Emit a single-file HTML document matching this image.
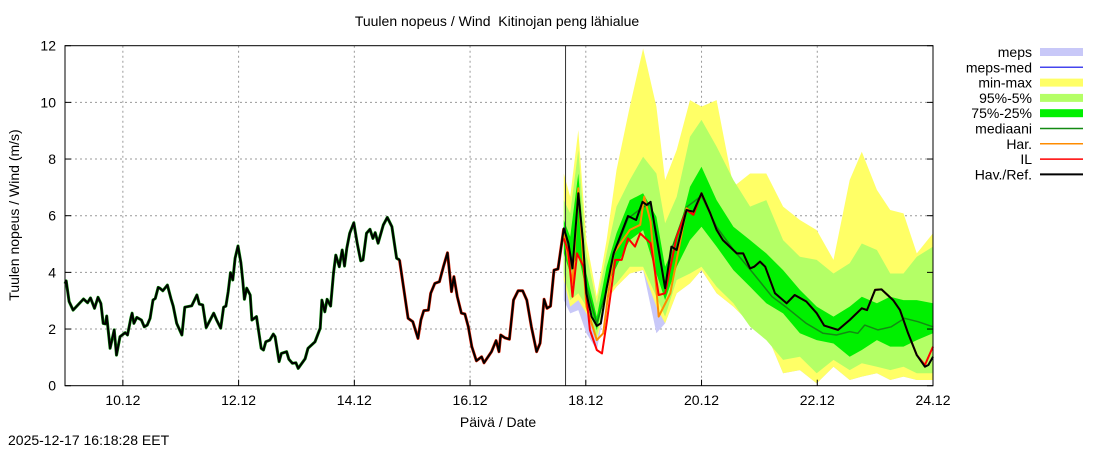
<!DOCTYPE html>
<html><head><meta charset="utf-8"><style>
body{margin:0;background:#fff}
svg{display:block;font-family:"Liberation Sans",sans-serif}
</style></head><body>
<svg id="c" width="1100" height="450" viewBox="0 0 1100 450">
<text x="497" y="26" font-size="14" text-anchor="middle">Tuulen nopeus / Wind &#160;Kitinojan peng lähialue</text>
<text transform="translate(19,215) rotate(-90)" font-size="14" text-anchor="middle">Tuulen nopeus / Wind (m/s)</text>
<text x="498" y="427" font-size="14" text-anchor="middle">Päivä / Date</text>
<text x="8" y="445" font-size="14">2025-12-17 16:18:28 EET</text>
<g id="grid"></g><g id="bands"></g><g id="lines"></g><g id="axes"></g><g id="legend"></g>
</svg>
<script>
const yTicks=[0,2,4,6,8,10,12];
const xTickDays=[10,12,14,16,18,20,22,24];
const xTickLabels=["10.12","12.12","14.12","16.12","18.12","20.12","22.12","24.12"];
const forecastStart=17.65;
const obsT=[9.0,9.02,9.07,9.14,9.32,9.39,9.44,9.51,9.57,9.62,9.66,9.70,9.72,9.78,9.85,9.89,9.95,10.04,10.08,10.14,10.16,10.19,10.24,10.32,10.37,10.42,10.47,10.52,10.56,10.61,10.64,10.69,10.77,10.83,10.87,10.93,11.02,11.07,11.19,11.28,11.32,11.38,11.44,11.57,11.62,11.69,11.74,11.78,11.82,11.86,11.90,11.94,11.99,12.04,12.07,12.10,12.14,12.20,12.23,12.31,12.39,12.43,12.47,12.54,12.60,12.63,12.70,12.74,12.83,12.87,12.93,12.99,13.03,13.15,13.20,13.32,13.41,13.44,13.49,13.53,13.59,13.64,13.68,13.74,13.79,13.83,13.87,13.92,13.99,14.05,14.11,14.15,14.21,14.27,14.32,14.36,14.41,14.50,14.57,14.65,14.73,14.78,14.93,15.01,15.10,15.15,15.20,15.28,15.32,15.39,15.47,15.54,15.61,15.68,15.72,15.78,15.85,15.91,15.97,16.03,16.11,16.20,16.24,16.37,16.45,16.50,16.53,16.60,16.68,16.75,16.83,16.91,16.98,17.06,17.15,17.21,17.28,17.33,17.39,17.45,17.52,17.62,17.70,17.77,17.87,17.95,18.01,18.10,18.19,18.26,18.36,18.48,18.73,18.87,18.98,19.05,19.12,19.22,19.37,19.48,19.57,19.74,19.86,20.00,20.15,20.26,20.37,20.61,20.72,20.84,20.91,21.01,21.10,21.27,21.47,21.61,21.81,21.99,22.12,22.36,22.56,22.77,22.86,23.00,23.11,23.31,23.43,23.57,23.72,23.86,23.92,24.00];
const obsV=[3.6,3.7,2.97,2.67,3.06,2.93,3.1,2.73,3.12,2.9,2.2,2.18,2.46,1.32,1.97,1.08,1.73,1.87,1.79,2.41,2.56,2.2,2.41,2.32,2.08,2.14,2.38,3.02,3.08,3.47,3.44,3.35,3.55,3.08,2.81,2.2,1.79,2.77,2.82,3.2,2.88,2.85,2.05,2.56,2.32,2.03,2.77,2.81,3.32,3.99,3.73,4.5,4.93,4.34,3.73,3.05,3.44,3.2,2.32,2.44,1.32,1.26,1.55,1.61,1.82,1.73,0.85,1.14,1.2,0.93,0.79,0.81,0.61,0.95,1.32,1.55,2.03,3.02,2.61,3.05,2.81,3.97,4.61,4.2,4.79,4.22,4.85,5.38,5.75,5.03,4.41,4.44,5.38,5.52,5.2,5.4,5.03,5.67,5.94,5.61,4.5,4.44,2.38,2.26,1.67,2.32,2.65,2.67,3.26,3.61,3.67,4.2,4.69,3.32,3.85,3.14,2.56,2.53,2.08,1.38,0.88,1.02,0.81,1.2,1.59,1.2,1.79,1.69,1.64,3.02,3.35,3.35,3.02,2.08,1.2,1.5,3.05,2.73,2.81,4.08,4.12,5.55,5.03,4.14,6.79,5.14,3.26,2.44,2.11,2.2,3.44,4.67,5.99,5.85,6.49,6.38,6.49,5.26,3.44,4.91,4.79,6.2,6.14,6.79,6.09,5.5,5.14,4.67,4.67,4.14,4.2,4.38,4.2,3.26,2.91,3.2,2.97,2.56,2.12,1.97,2.32,2.73,2.67,3.38,3.4,3.02,2.67,1.85,1.08,0.67,0.73,1.02];
const bandT=[17.62,17.73,17.87,18.01,18.19,18.36,18.53,18.76,18.99,19.22,19.37,19.57,19.80,20.00,20.26,20.55,20.84,21.12,21.41,21.70,21.99,22.28,22.56,22.77,23.03,23.26,23.49,23.72,24.00];
const maxV=[7.49,6.67,9.02,5.14,3.15,5.14,7.61,9.85,11.9,9.85,7.26,8.32,10.08,9.85,10.08,7.02,7.49,7.49,6.32,5.85,5.49,4.44,7.26,8.26,6.91,6.2,6.08,4.67,5.38];
const minV=[3.73,2.79,3.02,2.55,1.61,3.02,3.49,3.96,4.08,2.79,2.2,3.26,3.61,4.08,3.26,2.79,2.2,1.85,0.44,0.55,0.08,0.67,0.2,0.32,0.44,0.2,0.32,0.2,0.2];
const p95V=[6.55,6.08,8.32,4.67,2.91,4.67,6.32,7.26,8.08,7.49,5.73,6.67,8.79,9.38,8.44,7.26,6.32,6.55,5.14,4.55,4.44,3.96,4.32,5.02,4.79,3.96,3.96,4.55,4.91];
const p5V=[3.96,3.02,3.26,2.79,1.73,3.26,3.61,4.2,4.2,3.14,2.44,3.73,3.96,4.2,3.49,2.91,2.08,1.61,0.91,1.02,0.44,0.91,0.55,0.79,0.67,0.55,0.67,0.44,0.44];
const p75V=[5.85,5.26,7.49,3.96,2.44,4.2,5.38,6.55,6.79,5.96,4.2,5.14,7.02,7.73,6.55,5.61,5.14,4.67,4.08,3.38,2.79,2.44,2.79,3.14,2.91,3.14,3.02,3.02,2.91];
const p25V=[4.67,3.96,4.67,3.26,1.96,3.49,4.2,5.14,5.49,3.96,3.02,4.2,5.14,5.61,4.91,4.08,3.49,2.91,2.55,1.85,1.61,1.49,1.02,1.26,1.61,1.38,1.38,1.61,1.85];
const mepsLowV=[3.02,2.55,2.67,1.85,1.26,3.02,3.49,3.96,4.08,1.85,2.2,3.26,3.61,4.08,3.26,2.79,2.2,1.85,0.44,0.55,0.08,0.67,0.2,0.32,0.44,0.2,0.32,0.2,0.2];
const ilT=[17.62,17.70,17.77,17.85,17.96,18.07,18.19,18.28,18.36,18.51,18.62,18.73,18.85,18.94,19.12,19.26,19.37,19.57,19.74,19.86,20.00,20.15,20.26,20.37,20.61,20.72,20.84,20.91,21.01,21.10,21.27,21.47,21.61,21.81,21.99,22.12,22.36,22.56,22.77,22.86,23.00,23.11,23.31,23.43,23.57,23.72,23.86,24.00];
const ilV=[5.2,4.73,3.14,4.67,4.2,1.97,1.26,1.14,2.2,4.44,4.44,5.2,4.91,5.38,5.03,3.2,3.26,5.26,6.2,6.03,6.79,6.09,5.5,5.14,4.67,4.67,4.14,4.2,4.38,4.2,3.26,2.91,3.2,2.97,2.56,2.12,1.97,2.32,2.73,2.67,3.38,3.4,3.02,2.67,1.85,1.08,0.73,1.38];
const harT=[17.62,17.77,17.87,18.01,18.19,18.30,18.48,18.76,18.94,19.01,19.12,19.26,19.46,19.74,19.86,20.00,20.15];
const harV=[5.4,3.6,6.97,2.79,1.61,1.85,4.67,5.5,5.68,6.67,5.79,2.44,3.26,6.26,6.1,6.79,6.09];
const medT=[17.62,17.70,17.77,17.87,18.01,18.19,18.36,18.48,18.73,18.98,19.12,19.22,19.37,19.48,19.74,20.00,20.26,20.55,20.84,21.00,21.22,21.45,21.81,22.10,22.33,22.56,22.70,22.82,23.05,23.28,23.51,23.74,24.00];
const medV=[5.3,5.0,4.3,6.6,3.5,2.2,3.4,4.6,5.9,6.3,6.4,5.4,3.5,4.8,6.3,6.7,5.6,4.8,4.1,3.7,3.14,2.79,2.2,1.85,1.79,1.91,1.85,2.14,1.97,2.08,2.38,2.26,2.08];

const X0=65,X1=933,Y0=385.7,Y1=45.7,D0=9,D1=24,VMAX=12;
const xs=d=>X0+(d-D0)*(X1-X0)/(D1-D0);
const ys=v=>Y0-v*(Y0-Y1)/VMAX;
const NS="http://www.w3.org/2000/svg";
function mk(tag,parent,attrs){const e=document.createElementNS(NS,tag);for(const k in attrs)e.setAttribute(k,attrs[k]);document.getElementById(parent).appendChild(e);return e;}
function pts(T,V){return T.map((t,i)=>xs(t).toFixed(1)+","+ys(V[i]).toFixed(1)).join(" ");}
function band(T,U,L,fill,name){
  const p=pts(T,U)+" "+pts(T.slice().reverse(),L.slice().reverse());
  const e=mk("polygon","bands",{points:p,fill:fill,stroke:"none"});
  
  
}
function line(T,V,col,w,name){
  const e=mk("polyline","lines",{points:pts(T,V),fill:"none",stroke:col,"stroke-width":w,"stroke-linejoin":"round"});
  
  
}
yTicks.forEach(v=>{if(v>0&&v<12){const g=mk("line","grid",{x1:X0,x2:X1,y1:ys(v),y2:ys(v),stroke:"#999","stroke-dasharray":"2,3","stroke-width":1});}
 const t=mk("text","axes",{x:56,y:ys(v)+5,"font-size":14,"text-anchor":"end"});t.textContent=v;
 mk("line","axes",{x1:X0,x2:X0+6,y1:ys(v),y2:ys(v),stroke:"#000"});mk("line","axes",{x1:X1-6,x2:X1,y1:ys(v),y2:ys(v),stroke:"#000"});});
xTickDays.forEach((d,i)=>{if(d<24){const g=mk("line","grid",{x1:xs(d),x2:xs(d),y1:Y1,y2:Y0,stroke:"#999","stroke-dasharray":"2,3","stroke-width":1});}
 const t=mk("text","axes",{x:xs(d),y:405,"font-size":14,"text-anchor":"middle"});t.textContent=xTickLabels[i];
 mk("line","axes",{x1:xs(d),x2:xs(d),y1:Y0,y2:Y0-6,stroke:"#000"});});
band(bandT,p25V,mepsLowV,"#c8c8f8","meps-band");
band(bandT,maxV,minV,"#ffff66","min-max-band");
band(bandT,p95V,p5V,"#b4ff66","p95-p5-band");
band(bandT,p75V,p25V,"#00f000","p75-p25-band");
const fl=mk("line","lines",{x1:xs(forecastStart),x2:xs(forecastStart),y1:Y1,y2:Y0,stroke:"#333","stroke-width":1});


const gT=[],gV=[],rT=[],rV=[];
obsT.forEach((t,i)=>{if(t<=14.8){gT.push(t);gV.push(obsV[i]);} if(t>=14.75&&t<=17.62){rT.push(t);rV.push(obsV[i]);}});
line(gT,gV,"#0a8a0a",3,"median-history");
line(rT,rV,"#e02000",3,"il-history");
line(medT,medV,"#138a13",1.5,"mediaani-line");
line(harT,harV,"#ff8c00",2,"har-line");
line(ilT,ilV,"#ff0000",2,"il-line");
line(obsT,obsV,"#000",2,"hav-ref-line");
const fr=mk("rect","axes",{x:X0,y:Y1,width:X1-X0,height:Y0-Y1,fill:"none",stroke:"#000","stroke-width":1});


const legNames=["meps","meps-med","min-max","95%-5%","75%-25%","mediaani","Har.","IL","Hav./Ref."];
const legCol=["#c8c8f8","#4444ee","#ffff66","#b4ff66","#00f000","#138a13","#ff8c00","#ff0000","#000"];
const legBox=[true,false,true,true,true,false,false,false,false];
legNames.forEach((n,i)=>{const y=52+i*15.3;
 const t=mk("text","legend",{x:1032,y:y+5,"font-size":14,"text-anchor":"end"});t.textContent=n;
 
 
 if(legBox[i]){mk("rect","legend",{x:1040,y:y-4,width:43,height:8,fill:legCol[i]});}
 else{mk("line","legend",{x1:1040,x2:1083,y1:y,y2:y,stroke:legCol[i],"stroke-width":i==8?2:1.5});}
});
</script>
</body></html>
